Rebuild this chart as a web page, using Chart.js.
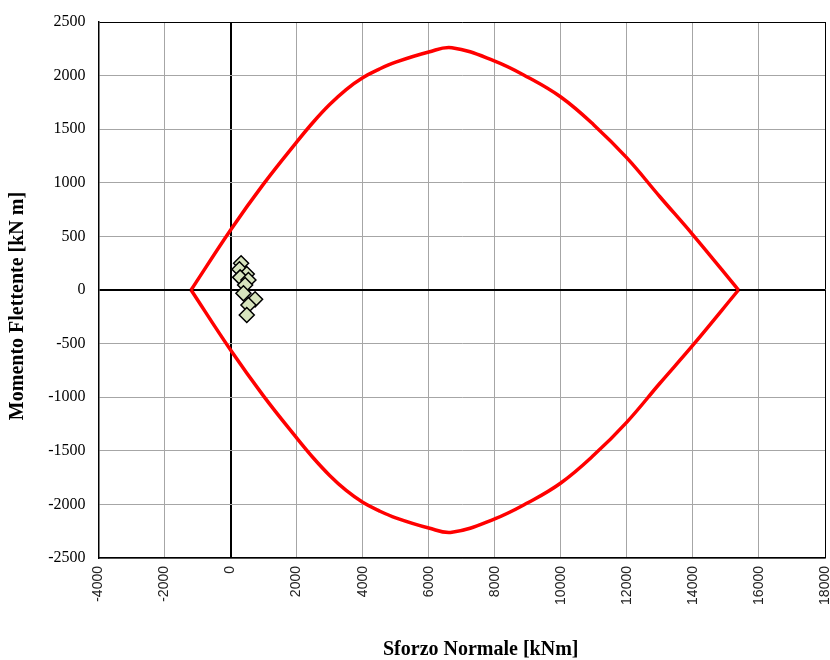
<!DOCTYPE html>
<html>
<head>
<meta charset="utf-8">
<script src="https://cdn.jsdelivr.net/npm/chart.js@4/dist/chart.umd.min.js"></script>
<style>
  html, body { margin: 0; padding: 0; background: #fff; }
  #wrap { width: 830px; height: 660px; }
</style>
</head>
<body>
<div id="wrap"><canvas id="c" width="830" height="660"></canvas></div>
<script>
// Interaction domain N-M: upper branch (positive moment) and lower branch (negative moment)
const domainN = [-1197, 0, 1000, 2000, 2500, 3000, 3500, 4000, 4500, 5000, 6000, 6700, 8000, 9000, 10000, 11000, 12000, 13000, 14000, 15380];
const domainMupper = [0, 560, 990, 1380, 1565, 1730, 1870, 1980, 2060, 2125, 2220, 2260, 2135, 1985, 1800, 1540, 1232, 870, 515, 0];
const domainMlower = [0, -560, -990, -1380, -1565, -1730, -1870, -1980, -2060, -2125, -2220, -2260, -2135, -1985, -1800, -1540, -1232, -870, -515, 0];

// Design actions (N, M)
const actionN = [318, 267, 490, 288, 540, 440, 389, 742, 540, 490];
const actionM = [249, 193, 149, 118, 93, 47, -31, -87, -140, -233];

const xTicks = [-4000, -2000, 0, 2000, 4000, 6000, 8000, 10000, 12000, 14000, 16000, 18000];
const yTicks = [-2500, -2000, -1500, -1000, -500, 0, 500, 1000, 1500, 2000, 2500];

const toXY = (xs, ys) => xs.map((x, i) => ({ x: x, y: ys[i] }));

const xTitle = 'Sforzo Normale [kNm]';
const yTitle = 'Momento Flettente [kN m]';

const axisTitles = {
  id: 'axisTitles',
  afterDraw(chart) {
    const { ctx, chartArea } = chart;
    ctx.save();
    ctx.fillStyle = '#000';
    ctx.font = "bold 20px 'Liberation Serif', 'Times New Roman', serif";
    ctx.textAlign = 'center';
    ctx.textBaseline = 'middle';
    ctx.fillText(xTitle, (chartArea.left + chartArea.right) / 2 + 19, 650);
    ctx.translate(18, (chartArea.top + chartArea.bottom) / 2 + 16);
    ctx.rotate(-Math.PI / 2);
    ctx.fillText(yTitle, 0, 0);
    ctx.restore();
  }
};

const gridColor = (v, max) => (v === 0 || v === max) ? '#000' : '#a6a6a6';

const domainStyle = {
  showLine: true,
  borderColor: '#ff0000',
  borderWidth: 3.5,
  pointRadius: 0,
  tension: 0.4,
  fill: false
};

new Chart(document.getElementById('c'), {
  type: 'scatter',
  data: {
    datasets: [
      {
        label: 'Sollecitazioni',
        data: toXY(actionN, actionM),
        pointStyle: 'rectRot',
        pointRadius: 7.5,
        pointHoverRadius: 7.5,
        backgroundColor: '#d7e4bd',
        borderColor: '#000',
        borderWidth: 1.5,
        showLine: false
      },
      Object.assign({ label: 'Dominio +', data: toXY(domainN, domainMupper) }, domainStyle),
      Object.assign({ label: 'Dominio -', data: toXY(domainN, domainMlower) }, domainStyle)
    ]
  },
  options: {
    responsive: false,
    animation: false,
    events: [],
    layout: { autoPadding: false, padding: { top: 22, right: 5, left: 0, bottom: 0 } },
    plugins: {
      legend: { display: false },
      tooltip: { enabled: false }
    },
    scales: {
      x: {
        type: 'linear',
        min: xTicks[0],
        max: xTicks[xTicks.length - 1],
        afterBuildTicks: (s) => { s.ticks = xTicks.map(v => ({ value: v })); },
        afterFit: (s) => { s.height = 102; s.paddingLeft = 0; s.paddingRight = 0; },
        ticks: {
          minRotation: 90,
          maxRotation: 90,
          padding: 8,
          color: '#222',
          font: { family: "'Liberation Sans', Arial, sans-serif", size: 14 },
          callback: (v) => String(v)
        },
        grid: {
          drawTicks: false,
          color: (c) => gridColor(c.tick && c.tick.value, 18000),
          lineWidth: (c) => (c.tick && c.tick.value === 0) ? 2 : 1
        },
        border: { display: true, color: '#000', width: 1.5 }
      },
      y: {
        type: 'linear',
        min: yTicks[0],
        max: yTicks[yTicks.length - 1],
        afterBuildTicks: (s) => { s.ticks = yTicks.map(v => ({ value: v })); },
        afterFit: (s) => { s.width = 98.5; s.paddingTop = 0; s.paddingBottom = 0; },
        ticks: {
          padding: 13,
          color: '#000',
          font: { family: "'Liberation Serif', 'Times New Roman', serif", size: 16 },
          callback: (v) => String(v)
        },
        grid: {
          drawTicks: false,
          color: (c) => gridColor(c.tick && c.tick.value, 2500),
          lineWidth: (c) => (c.tick && c.tick.value === 0) ? 2 : 1
        },
        border: { display: true, color: '#000', width: 1.5 }
      }
    }
  },
  plugins: [axisTitles]
});
</script>
</body>
</html>
